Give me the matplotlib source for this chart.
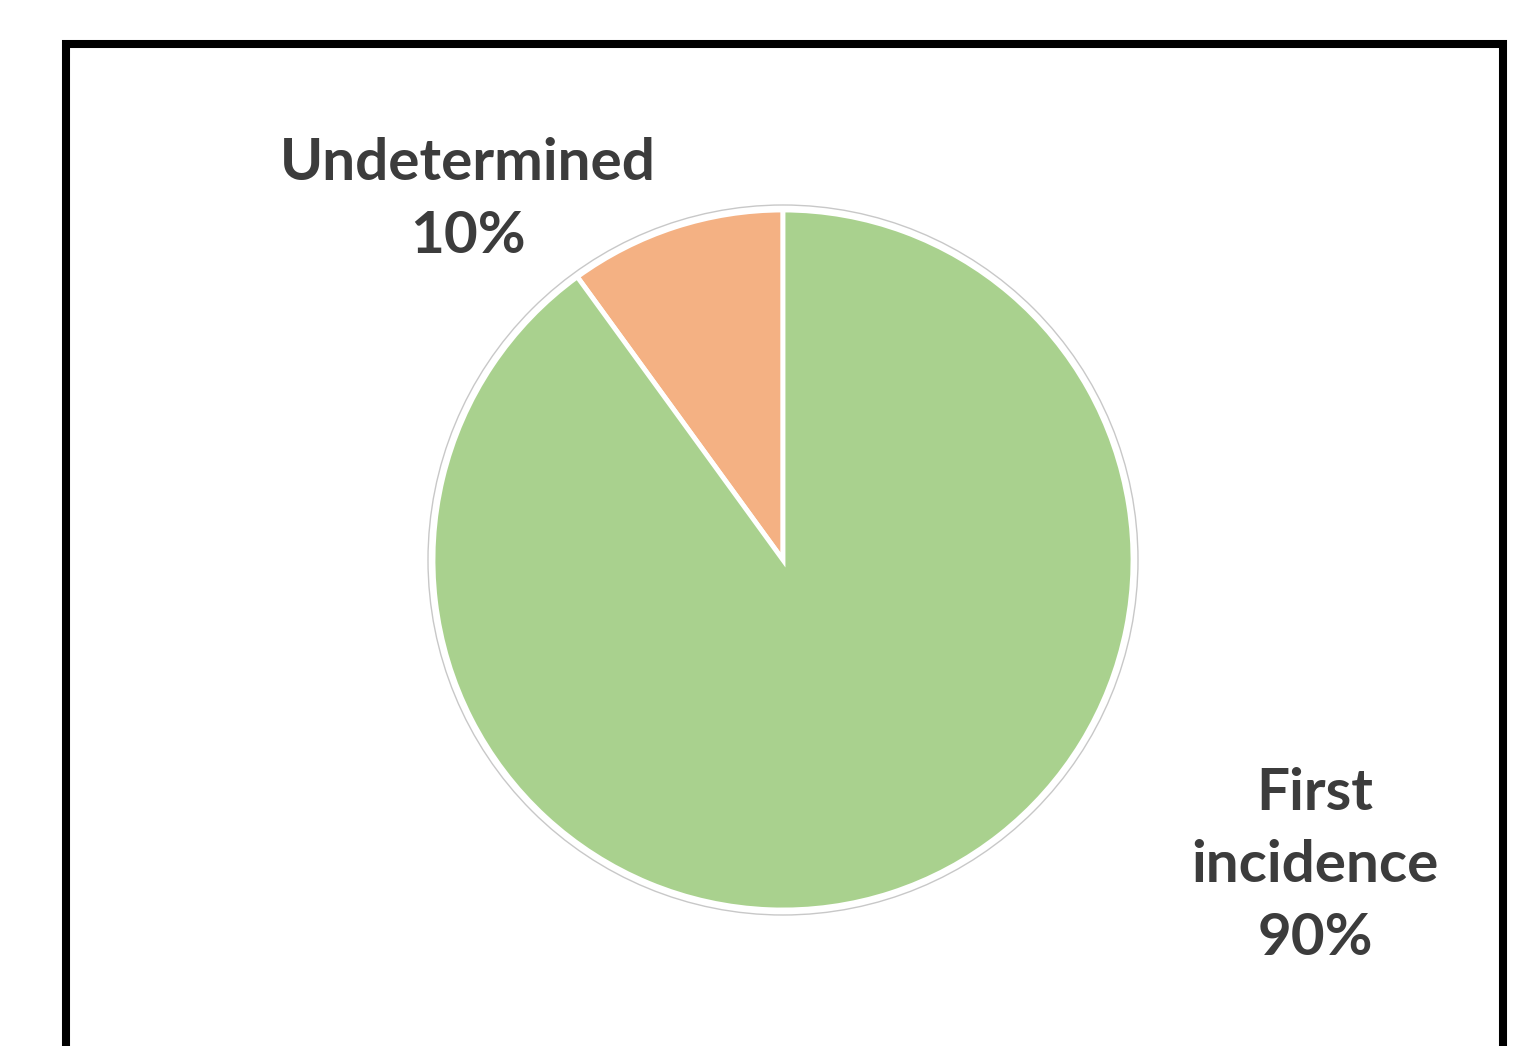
import matplotlib.pyplot as plt
from matplotlib.patches import Circle, Rectangle

categories = ["Undetermined", "First\nincidence"]
shares = [10, 90]
colors = ["#f4b183", "#a9d18e"]

W, H = 1533, 1046
fig = plt.figure(figsize=(W / 100, H / 100), dpi=100)
ax = fig.add_axes([0, 0, 1, 1])

cx, cy, r = 783, H - 560, 350
ax.pie(
    shares,
    colors=colors,
    startangle=90,
    counterclock=True,
    center=(cx, cy),
    radius=r,
    frame=True,
    wedgeprops=dict(edgecolor="white", linewidth=3.5),
)
ax.set_xlim(0, W)
ax.set_ylim(0, H)
ax.set_aspect("equal")
ax.axis("off")
ax.add_patch(Circle((cx, cy), r + 5, facecolor="none", edgecolor="#c8c8c8",
                    linewidth=1.0))

# labels
label_pos = [(468, H - 200), (1315, H - 866)]
for name, val, (lx, ly) in zip(categories, shares, label_pos):
    ax.text(lx, ly, f"{name}\n{val}%", ha="center", va="center",
            fontsize=42, fontweight="bold", family="Lato", color="#3c3c3c",
            linespacing=1.45)

# frame border
ax.add_patch(Rectangle((66, -20), 1437, H - 44 + 20, facecolor="none",
                       edgecolor="black", linewidth=5.8, clip_on=False))

fig.savefig("out.png", dpi=100, facecolor="white")
